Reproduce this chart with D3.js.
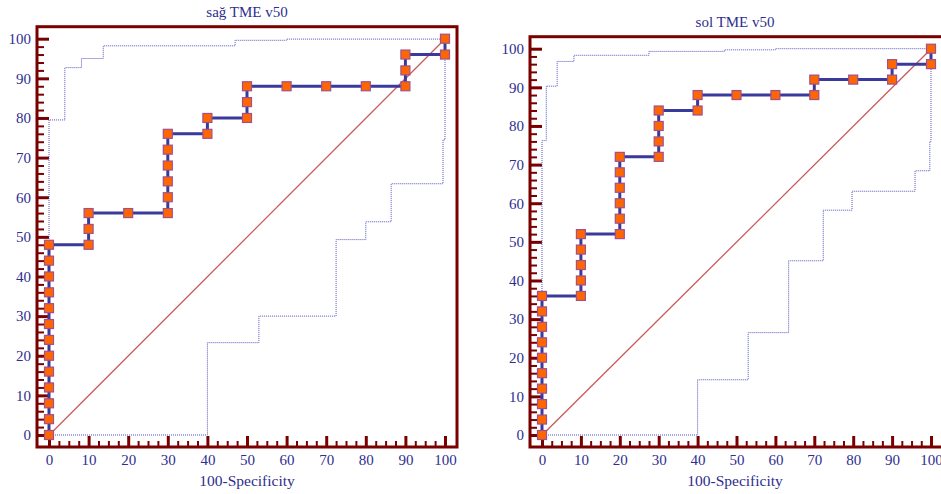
<!DOCTYPE html>
<html>
<head>
<meta charset="utf-8">
<script src="https://cdn.jsdelivr.net/npm/d3@7"></script>
<style>
  html, body { margin: 0; padding: 0; background: #fff; }
  svg { display: block; font-family: "Liberation Serif", "DejaVu Serif", serif; }
</style>
</head>
<body>
<svg id="chart" width="941" height="494"></svg>
<script>
// ROC curves, two panels (sağ / sol TME v50)

// ---- left panel data ----
const leftTitle = "sağ TME v50";
const leftFpr  = [0,0,0,0,0,0,0,0,0,0,0,0,0, 10,10,10, 20, 30,30,30,30,30,30, 40,40, 50,50,50, 60, 70, 80, 90,90,90, 100,100];
const leftSens = [0,4,8,12,16,20,24,28,32,36,40,44,48, 48,52,56, 56, 56,60,64,68,72,76, 76,80, 80,84,88, 88, 88, 88, 88,92,96, 96,100];
const leftUpperX = [0, 4, 8.2, 13.7, 47, 60, 100, 100];
const leftUpperY = [0, 79.5, 92.7, 95, 98.2, 99.6, 99.9, 100];
const leftLowerX = [0, 40, 53, 72.5, 80, 86.4, 99.5, 100];
const leftLowerY = [0, 23.3, 30, 49.3, 53.8, 63.4, 74.5, 96];

// ---- right panel data ----
const rightTitle = "sol TME v50";
const rightFpr  = [0,0,0,0,0,0,0,0,0,0, 10,10,10,10,10, 20,20,20,20,20,20, 30,30,30,30, 40,40, 50, 60, 70,70, 80, 90,90, 100,100];
const rightSens = [0,4,8,12,16,20,24,28,32,36, 36,40,44,48,52, 52,56,60,64,68,72, 72,76,80,84, 84,88, 88, 88, 88,92, 92, 92,96, 96,100];
const rightUpperX = [0, 1.1, 3.9, 8.2, 27.5, 46.9, 60, 100];
const rightUpperY = [0, 76.2, 90.3, 96.7, 98.3, 99.3, 99.7, 100];
const rightLowerX = [0, 40, 53, 63.4, 72.3, 79.7, 95.9, 99.7, 100];
const rightLowerY = [0, 14.3, 26.5, 45.1, 58.2, 63.1, 68.4, 76, 96];

// ---- ticks ----
const majorTicks = [0, 10, 20, 30, 40, 50, 60, 70, 80, 90, 100];
const yMinorTicks = d3.range(0, 101, 2).filter(v => v % 10 !== 0);
const xMinorTicks = d3.range(0, 101, 2.5).filter(v => v % 10 !== 0);
const xLabel = "100-Specificity";

const svg = d3.select("#chart");

const panels = [
  { title: leftTitle, fpr: leftFpr, sens: leftSens,
    upX: leftUpperX, upY: leftUpperY, loX: leftLowerX, loY: leftLowerY,
    frame: { x0: 37, x1: 457, y0: 26.7, y1: 447 } },
  { title: rightTitle, fpr: rightFpr, sens: rightSens,
    upX: rightUpperX, upY: rightUpperY, loX: rightLowerX, loY: rightLowerY,
    frame: { x0: 530, x1: 943, y0: 36.7, y1: 447 } }
];

const frameColor = "#7a0000";
const textColor = "#2e2e8f";
const pad = 12;

panels.forEach(drawPanel);

function drawPanel(p) {
  const f = p.frame;
  const g = svg.append("g");

  const x = d3.scaleLinear().domain([0, 100]).range([f.x0 + pad, f.x1 - pad]);
  const y = d3.scaleLinear().domain([0, 100]).range([f.y1 - pad, f.y0 + pad]);

  // frame
  g.append("rect")
    .attr("x", f.x0).attr("y", f.y0)
    .attr("width", f.x1 - f.x0).attr("height", f.y1 - f.y0)
    .attr("fill", "none")
    .attr("stroke", frameColor)
    .attr("stroke-width", 3);

  // y ticks (inward)
  const yMinor = g.append("g")
    .attr("transform", `translate(${f.x0},0)`)
    .call(d3.axisLeft(y).tickValues(yMinorTicks).tickSizeInner(-7).tickSizeOuter(0).tickFormat(""));
  const yMajor = g.append("g")
    .attr("transform", `translate(${f.x0},0)`)
    .call(d3.axisLeft(y).tickValues(majorTicks).tickSizeInner(-12).tickSizeOuter(0).tickPadding(6));

  // x ticks (inward)
  const xMinor = g.append("g")
    .attr("transform", `translate(0,${f.y1})`)
    .call(d3.axisBottom(x).tickValues(xMinorTicks).tickSizeInner(-6).tickSizeOuter(0).tickFormat(""));
  const xMajor = g.append("g")
    .attr("transform", `translate(0,${f.y1})`)
    .call(d3.axisBottom(x).tickValues(majorTicks).tickSizeInner(-11).tickSizeOuter(0).tickPadding(7));

  [yMinor, yMajor, xMinor, xMajor].forEach(ax => {
    ax.select(".domain").remove();
    ax.selectAll(".tick line").attr("stroke", frameColor);
    ax.selectAll("text")
      .attr("fill", textColor)
      .style("font-size", "15px")
      .style("font-family", "'Liberation Serif', serif");
  });
  yMinor.selectAll(".tick line").attr("stroke-width", 2);
  xMinor.selectAll(".tick line").attr("stroke-width", 2);
  yMajor.selectAll(".tick line").attr("stroke-width", 3);
  xMajor.selectAll(".tick line").attr("stroke-width", 3);

  // diagonal reference line
  g.append("path")
    .datum([[0, 0], [100, 100]])
    .attr("fill", "none")
    .attr("stroke", "#c85a5a")
    .attr("stroke-width", 1.3)
    .attr("d", d3.line().x(d => x(d[0])).y(d => y(d[1]) + 0.3));

  // confidence bounds
  const upper = p.upX.map((v, i) => [v, p.upY[i]]);
  const lower = p.loX.map((v, i) => [v, p.loY[i]]);

  g.append("path")
    .datum(upper)
    .attr("fill", "none")
    .attr("stroke", "#5555c0")
    .attr("stroke-width", 1)
    .attr("stroke-dasharray", "1,1")
    .attr("d", d3.line().x(d => x(d[0])).y(d => y(d[1])).curve(d3.curveStepBefore));

  g.append("path")
    .datum(lower)
    .attr("fill", "none")
    .attr("stroke", "#5555c0")
    .attr("stroke-width", 1)
    .attr("stroke-dasharray", "1,1")
    .attr("d", d3.line().x(d => x(d[0])).y(d => y(d[1])).curve(d3.curveStepAfter));

  // ROC curve
  const pts = p.fpr.map((v, i) => [v, p.sens[i]]);
  g.append("path")
    .datum(pts)
    .attr("fill", "none")
    .attr("stroke", "#3a3a9c")
    .attr("stroke-width", 3)
    .attr("d", d3.line().x(d => x(d[0])).y(d => y(d[1])));

  // markers
  const m = 9;
  g.append("g").selectAll("rect")
    .data(pts)
    .join("rect")
    .attr("x", d => x(d[0]) - m / 2)
    .attr("y", d => y(d[1]) - m / 2)
    .attr("width", m).attr("height", m)
    .attr("fill", "#ff6600")
    .attr("stroke", "#a0508e")
    .attr("stroke-width", 1.2);

  // title
  g.append("text")
    .attr("x", (f.x0 + Math.min(f.x1, 940)) / 2)
    .attr("y", f.y0 - 10)
    .attr("text-anchor", "middle")
    .attr("fill", textColor)
    .style("font-size", "15px")
    .text(p.title);

  // x axis label
  g.append("text")
    .attr("x", (f.x0 + Math.min(f.x1, 940)) / 2)
    .attr("y", f.y1 + 39)
    .attr("text-anchor", "middle")
    .attr("fill", textColor)
    .style("font-size", "15.5px")
    .text(xLabel);
}
</script>
</body>
</html>
